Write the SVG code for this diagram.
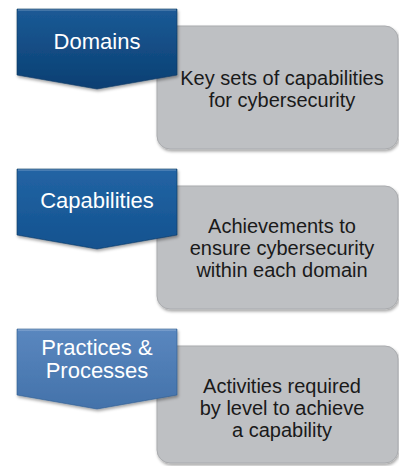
<svg xmlns="http://www.w3.org/2000/svg" width="399" height="466" viewBox="0 0 399 466">
  <style>
    .box { fill: #bec0c3; stroke: #a9abae; stroke-width: 1; filter: url(#shadow); }
    .boxText { font-family: "Liberation Sans", Arial, sans-serif; font-size: 20px; fill: #1a1a1a; text-anchor: middle; }
    .tag { stroke: #0a3560; stroke-width: 0.6; filter: url(#shadow); }
    .tagText { font-family: "Liberation Sans", Arial, sans-serif; font-size: 22px; fill: #ffffff; text-anchor: middle; }
    .hi { fill: none; stroke: #ffffff; stroke-opacity: 0.35; stroke-width: 1.2; }
  </style>
  <defs>
    <filter id="shadow" x="-10%" y="-10%" width="125%" height="130%">
      <feDropShadow dx="1" dy="2" stdDeviation="1.5" flood-color="#000" flood-opacity="0.35"/>
    </filter>
    <linearGradient id="gDomains" x1="0" y1="0" x2="0" y2="1">
      <stop offset="0" stop-color="#1b5a96"/>
      <stop offset="1" stop-color="#0a3f72"/>
    </linearGradient>
    <linearGradient id="gCap" x1="0" y1="0" x2="0" y2="1">
      <stop offset="0" stop-color="#2364a4"/>
      <stop offset="1" stop-color="#12528f"/>
    </linearGradient>
    <linearGradient id="gPrac" x1="0" y1="0" x2="0" y2="1">
      <stop offset="0" stop-color="#5a87bf"/>
      <stop offset="1" stop-color="#4372aa"/>
    </linearGradient>
    <!-- chevron tag shape, drawn at origin -->
    <path id="chevron" d="M17,9 H177 V75 L97,89 L17,75 Z"/>
  </defs>

  <!-- Domains -->
  <g id="domains-detail">
    <rect class="box" x="157" y="26" width="241" height="123" rx="13"/>
    <text class="boxText" x="282" y="85">Key sets of capabilities</text>
    <text class="boxText" x="282" y="107">for cybersecurity</text>
  </g>
  <g id="domains">
    <use href="#chevron" class="tag" fill="url(#gDomains)"/>
    <path class="hi" d="M18,10 H176"/>
    <text class="tagText" x="97" y="49">Domains</text>
  </g>

  <!-- Capabilities -->
  <g id="capabilities-detail">
    <rect class="box" x="157" y="186" width="241" height="123" rx="13"/>
    <text class="boxText" x="282" y="233">Achievements to</text>
    <text class="boxText" x="282" y="255">ensure cybersecurity</text>
    <text class="boxText" x="282" y="277">within each domain</text>
  </g>
  <g id="capabilities" transform="translate(0,160)">
    <use href="#chevron" class="tag" fill="url(#gCap)"/>
    <path class="hi" d="M18,10 H176"/>
    <text class="tagText" x="97" y="48">Capabilities</text>
  </g>

  <!-- Practices & Processes -->
  <g id="practices-detail">
    <rect class="box" x="157" y="346" width="241" height="117" rx="13"/>
    <text class="boxText" x="282" y="393">Activities required</text>
    <text class="boxText" x="282" y="415">by level to achieve</text>
    <text class="boxText" x="282" y="437">a capability</text>
  </g>
  <g id="practices" transform="translate(0,320)">
    <use href="#chevron" class="tag" fill="url(#gPrac)" style="stroke:#2d5a8e"/>
    <path class="hi" d="M18,10 H176"/>
    <text class="tagText" x="97" y="35">Practices &amp;</text>
    <text class="tagText" x="97" y="58">Processes</text>
  </g>

  <g id="connectors"/>
</svg>
